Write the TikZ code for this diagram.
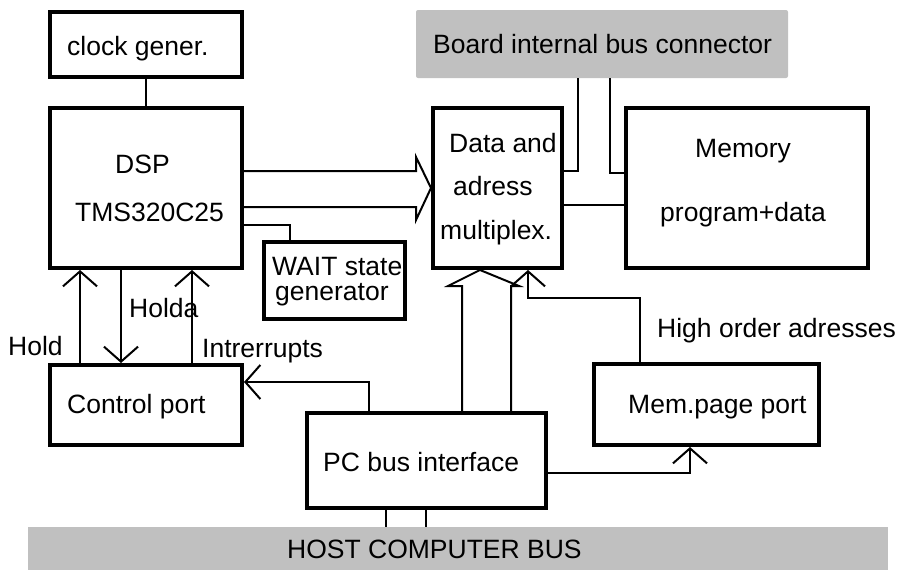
\documentclass[tikz,border=0pt]{standalone}
\usepackage{fontspec}
\setmainfont{Liberation Sans}
\usetikzlibrary{arrows.meta,calc}
\definecolor{busgray}{RGB}{192,192,192}
\begin{document}
\begin{tikzpicture}[x=1pt,y=-1pt,
  box/.style={draw,line width=4pt,inner sep=0pt,fill=white},
  bus/.style={fill=busgray,inner sep=0pt,rounded corners=2pt},
  txt/.style={inner sep=0pt,anchor=base west,font=\fontsize{26.5pt}{30pt}\selectfont},
  conn/.style={line width=2pt},
  arr/.style={conn,-{Straight Barb[length=15pt,width=34pt]}}]
\useasboundingbox (0,0) rectangle (897,570);
% buses
\node[bus,minimum width=372pt,minimum height=68pt] (board) at (602,44) {};
\node[bus,rounded corners=0pt,minimum width=860pt,minimum height=44pt] (host) at (458,549) {};
% boxes
\node[box,minimum width=192pt,minimum height=65pt] (clock) at (146,44.5) {};
\node[box,minimum width=192pt,minimum height=160pt] (dsp) at (146,188) {};
\node[box,minimum width=129pt,minimum height=160pt] (mux) at (497.5,188) {};
\node[box,minimum width=242pt,minimum height=160pt] (mem) at (747,188) {};
\node[box,minimum width=141pt,minimum height=77pt] (wait) at (334.5,280.5) {};
\node[box,minimum width=192pt,minimum height=80pt] (ctrl) at (146,405) {};
\node[box,minimum width=239pt,minimum height=95pt] (pc) at (426.5,460.5) {};
\node[box,minimum width=225pt,minimum height=81pt] (mpage) at (706.5,404.5) {};
% connectors
\draw[conn] (clock) -- (dsp);
\draw[conn,line join=miter] ($(dsp.east)+(0,-17)$) -- ($(mux.west)+(-15,-17)$) -- ++(0,-14) -- (mux.west) -- ++(-15,32) -- ++(0,-13) -- ($(dsp.east)+(0,19)$);
\draw[conn] ($(dsp.east)+(0,37)$) -| ($(wait.north west)+(28,0)$);
\draw[conn] ($(board.south west)+(162,0)$) |- ($(mux.east)+(0,-17)$);
\draw[conn] ($(board.south west)+(194,0)$) |- ($(mem.west)+(0,-15)$);
\draw[conn] ($(mux.east)+(0,17)$) -- ($(mem.west)+(0,17)$);
\draw[arr] ($(ctrl.north west)+(32,0)$) -- ($(dsp.south west)+(32,0)$);
\draw[arr] ($(dsp.south west)+(73,0)$) -- ($(ctrl.north west)+(73,0)$);
\draw[arr] ($(ctrl.north west)+(144,0)$) -- ($(dsp.south west)+(144,0)$);
\draw[arr] ($(pc.north west)+(64,0)$) |- ($(ctrl.east)+(0,-23)$);
\draw[conn] ($(pc.south west)+(81,0)$) coordinate (h1) -- (h1 |- host.north);
\draw[conn] ($(pc.south west)+(121,0)$) coordinate (h2) -- (h2 |- host.north);
\draw[conn] ($(pc.north west)+(157,0)$) -- ($(mux.south west)+(31,16)$) -- ++(-14,0) -- ($(mux.south west)+(49,0)$) -- ($(mux.south west)+(88,16)$) -- ++(-8,0) -- ($(pc.north west)+(206,0)$);
\draw[arr] ($(mpage.north west)+(48,0)$) -- ($(mpage.north west)+(48,-64)$) -| ($(mux.south west)+(97,0)$);
\draw[arr] ($(pc.east)+(0,12.5)$) -| ($(mpage.south west)+(98,0)$);
% texts
\node[txt] (tclock) at (67,55) {clock gener.};
\node[txt] (tdsp) at (115,173) {DSP};
\node[txt] (ttms) at (75,221) {TMS320C25};
\node[txt] (tboard) at (433,53) {Board internal bus connector};
\node[txt] (tdata) at (449,152) {Data and};
\node[txt] (tadr) at (453,195) {adress};
\node[txt] (tmul) at (440,239) {multiplex.};
\node[txt] (tmem) at (695,157) {Memory};
\node[txt] (tprog) at (660,221) {program+data};
\node[txt] (twait1) at (272,275) {WAIT state};
\node[txt] (twait2) at (275,300) {generator};
\node[txt] (thold) at (8,355) {Hold};
\node[txt] (tholda) at (129,317) {Holda};
\node[txt] (tint) at (202,357) {Intrerrupts};
\node[txt] (tctrl) at (67,413) {Control port};
\node[txt] (tpc) at (323,471) {PC bus interface};
\node[txt] (thost) at (287,558) {HOST COMPUTER BUS};
\node[txt] (thigh) at (657,337) {High order adresses};
\node[txt] (tmpage) at (628,413) {Mem.page port};
\end{tikzpicture}
\end{document}
